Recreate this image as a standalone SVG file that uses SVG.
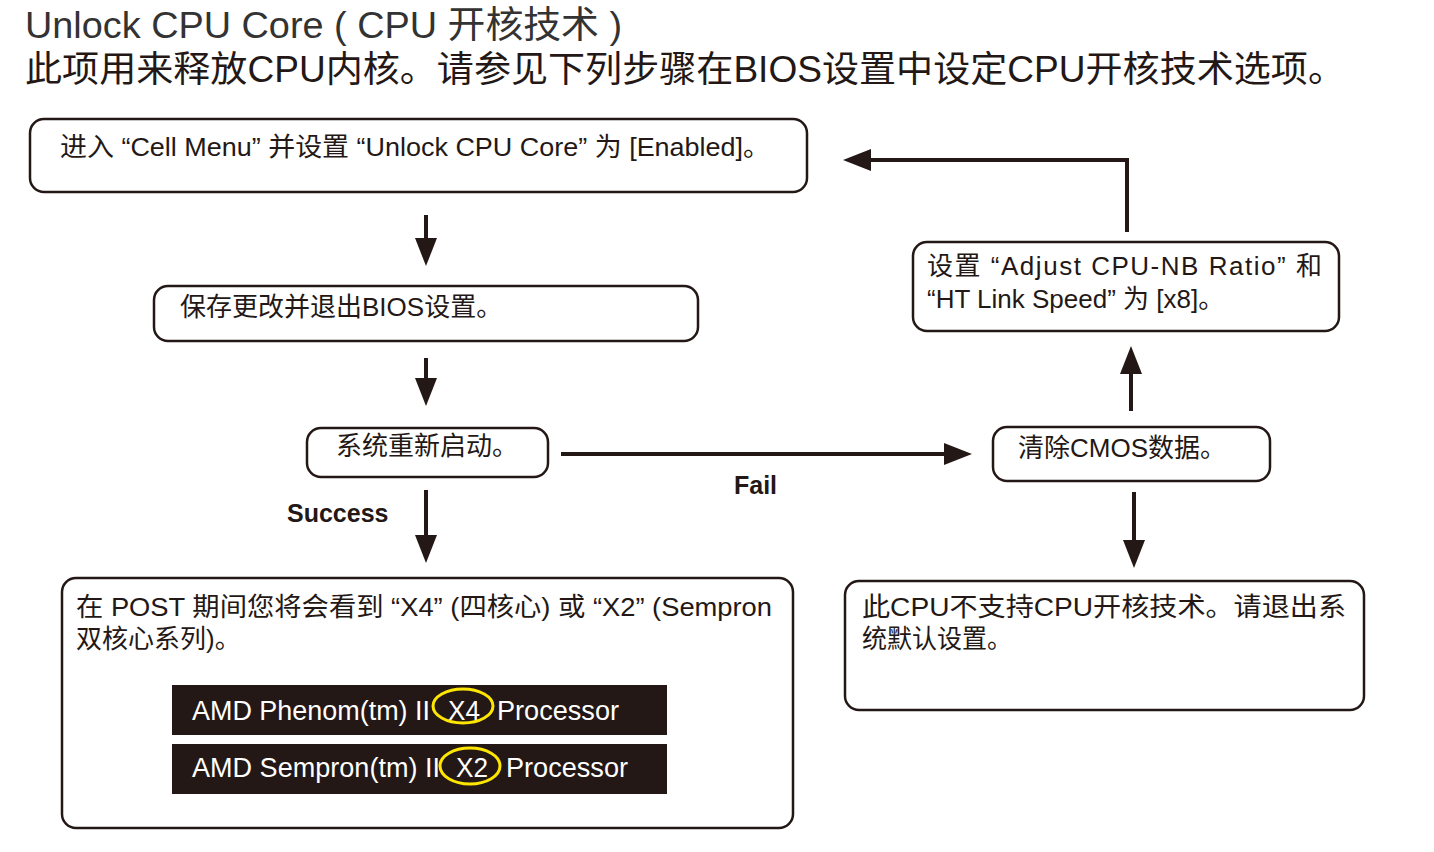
<svg xmlns="http://www.w3.org/2000/svg" width="1434" height="852" viewBox="0 0 1434 852">
<style>
text{font-family:"Liberation Sans","Noto Sans CJK SC",sans-serif;fill:#231815}
.t{font-size:26px}
.box{fill:#fff;stroke:#231815;stroke-width:2.5}
.bar{fill:#231815}
.bt{font-size:27px;fill:#fff}
.ring{fill:none;stroke:#ffe600;stroke-width:3}
.lbl{font-size:25px;font-weight:bold}
.con{fill:none;stroke:#231815;stroke-width:4}
</style>
<defs>
<marker id="ah" viewBox="0 0 28 22" refX="0" refY="11" markerWidth="28" markerHeight="22" markerUnits="userSpaceOnUse" orient="auto">
<path d="M0,0 L28,11 L0,22 Z" fill="#231815"/>
</marker>
</defs>
<rect width="1434" height="852" fill="#fff"/>
<g id="title">
<text x="25" y="38" font-size="37" textLength="597" lengthAdjust="spacingAndGlyphs" style="fill:#333">Unlock CPU Core ( CPU 开核技术 )</text>
<text x="25" y="82" font-size="36" textLength="1320" lengthAdjust="spacingAndGlyphs">此项用来释放CPU内核。请参见下列步骤在BIOS设置中设定CPU开核技术选项。</text>
</g>
<g id="n1">
<rect class="box" x="30" y="119" width="777" height="73" rx="14"/>
<text class="t" x="60" y="156" textLength="710" lengthAdjust="spacingAndGlyphs">进入 “Cell Menu” 并设置 “Unlock CPU Core” 为 [Enabled]。</text>
</g>
<g id="n2">
<rect class="box" x="154" y="286" width="544" height="55" rx="14"/>
<text class="t" x="180" y="316">保存更改并退出BIOS设置。</text>
</g>
<g id="n3">
<rect class="box" x="307" y="428" width="241" height="49" rx="14"/>
<text class="t" x="336" y="455">系统重新启动。</text>
</g>
<g id="n4">
<rect class="box" x="993" y="427" width="277" height="54" rx="14"/>
<text class="t" x="1018" y="457">清除CMOS数据。</text>
</g>
<g id="n5">
<rect class="box" x="913" y="242" width="426" height="89" rx="14"/>
<text class="t" x="927" y="275" textLength="395" lengthAdjust="spacing">设置 “Adjust CPU-NB Ratio” 和</text>
<text class="t" x="927" y="308">“HT Link Speed” 为 [x8]。</text>
</g>
<g id="n6">
<rect class="box" x="62" y="578" width="731" height="250" rx="14"/>
<text class="t" x="76" y="616" textLength="696" lengthAdjust="spacingAndGlyphs">在 POST 期间您将会看到 “X4” (四核心) 或 “X2” (Sempron</text>
<text class="t" x="76" y="648">双核心系列)。</text>
<rect class="bar" x="172" y="685" width="495" height="50"/>
<rect class="bar" x="172" y="744" width="495" height="50"/>
<text class="bt" x="192" y="720" textLength="238" lengthAdjust="spacingAndGlyphs">AMD Phenom(tm) II</text>
<text class="bt" x="448" y="720" textLength="32" lengthAdjust="spacingAndGlyphs">X4</text>
<text class="bt" x="497" y="720" textLength="122" lengthAdjust="spacingAndGlyphs">Processor</text>
<text class="bt" x="192" y="777" textLength="248" lengthAdjust="spacingAndGlyphs">AMD Sempron(tm) II</text>
<text class="bt" x="456" y="777" textLength="32" lengthAdjust="spacingAndGlyphs">X2</text>
<text class="bt" x="506" y="777" textLength="122" lengthAdjust="spacingAndGlyphs">Processor</text>
<ellipse class="ring" cx="463" cy="706" rx="30" ry="17"/>
<ellipse class="ring" cx="470" cy="766" rx="30" ry="18"/>
</g>
<g id="n7">
<rect class="box" x="845" y="581" width="519" height="129" rx="14"/>
<text class="t" x="862" y="616" textLength="484" lengthAdjust="spacingAndGlyphs">此CPU不支持CPU开核技术。请退出系</text>
<text class="t" x="862" y="648" textLength="150" lengthAdjust="spacingAndGlyphs">统默认设置。</text>
</g>
<g id="connectors">
<path class="con" d="M426,215 V238" marker-end="url(#ah)"/>
<path class="con" d="M426,358 V378" marker-end="url(#ah)"/>
<path class="con" d="M426,490 V535" marker-end="url(#ah)"/>
<path class="con" d="M561,454 H944" marker-end="url(#ah)"/>
<path class="con" d="M1131,411 V374" marker-end="url(#ah)"/>
<path class="con" d="M1134,492 V540" marker-end="url(#ah)"/>
<path class="con" d="M1127,232 V160 H871" marker-end="url(#ah)"/>
<text class="lbl" x="287" y="522">Success</text>
<text class="lbl" x="734" y="494">Fail</text>
</g>
</svg>
